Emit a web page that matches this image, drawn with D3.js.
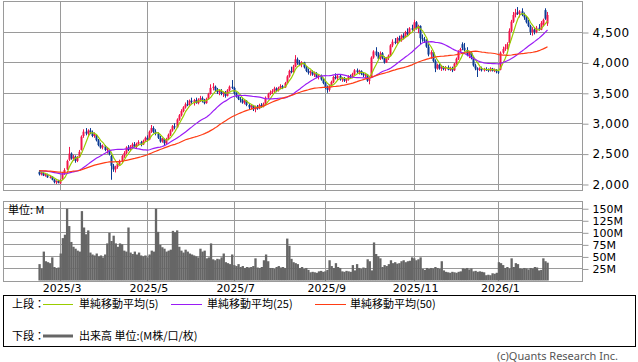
<!DOCTYPE html>
<html>
<head>
<meta charset="utf-8">
<script src="https://cdn.jsdelivr.net/npm/d3@7"></script>
<style>
    body { margin: 0; background: #fff; }
    svg { display: block; }
    .tick text { font-family: "DejaVu Sans", sans-serif; fill: #000; }
    .jp { font-family: "Noto Sans CJK JP", sans-serif; font-size: 11px; fill: #000; }
</style>
</head>
<body>
<svg id="chart" width="638" height="362"></svg>
<script>
// Daily bars, Feb 2025 - Feb 2026
const opens = [
    2200,2160,2180,2140,2160,2110,2120,2070,2030,2050,
    2010,2080,2170,2240,2400,2500,2420,2450,2380,2450,
    2560,2790,2860,2830,2880,2850,2790,2800,2720,2640,
    2600,2620,2560,2560,2460,2300,2240,2280,2330,2370,
    2460,2510,2600,2560,2620,2650,2610,2660,2690,2650,
    2710,2760,2730,2860,2920,2860,2830,2760,2700,2740,
    2670,2740,2810,2880,2950,2930,3060,3130,3200,3260,
    3310,3300,3370,3350,3380,3330,3390,3410,3360,3330,
    3400,3480,3580,3600,3540,3510,3530,3480,3500,3450,
    3540,3600,3580,3490,3440,3400,3380,3340,3370,3300,
    3260,3290,3230,3270,3240,3300,3280,3320,3420,3480,
    3510,3530,3570,3540,3580,3610,3590,3660,3770,3860,
    3840,3930,4050,3990,3960,4000,3920,3860,3830,3850,
    3800,3820,3760,3780,3720,3660,3580,3550,3620,3680,
    3760,3740,3780,3720,3740,3700,3720,3770,3760,3810,
    3870,3840,3860,3810,3790,3800,3700,3760,4080,4180,
    4120,4060,4150,4080,4000,4070,4110,4280,4340,4320,
    4400,4360,4440,4410,4500,4470,4560,4540,4660,4560,
    4600,4400,4380,4350,4260,4130,4170,4020,3900,3960,
    3900,3920,3890,3920,3880,3910,3870,3980,4060,4180,
    4300,4240,4200,4120,4160,4070,3950,3900,3880,3900,
    3870,3890,3880,3870,3900,3860,3880,3850,3880,4160,
    4220,4250,4320,4520,4670,4780,4820,4800,4840,4780,
    4740,4660,4600,4500,4540,4500,4570,4540,4620,4860,
    4640
];
const highs = [
    2230,2200,2190,2170,2170,2140,2130,2080,2060,2070,
    2080,2180,2260,2400,2610,2520,2480,2470,2460,2560,
    2800,2900,2920,2900,2920,2880,2850,2810,2740,2680,
    2650,2640,2600,2570,2480,2330,2300,2350,2400,2480,
    2540,2620,2640,2640,2680,2690,2680,2720,2710,2730,
    2780,2800,2880,2970,2950,2900,2850,2790,2760,2750,
    2760,2830,2900,2970,3000,3080,3150,3230,3280,3340,
    3380,3390,3420,3400,3420,3410,3450,3440,3400,3420,
    3500,3640,3660,3620,3580,3550,3560,3520,3530,3560,
    3620,3710,3600,3510,3470,3430,3420,3390,3380,3330,
    3310,3300,3290,3300,3320,3330,3340,3440,3500,3540,
    3560,3600,3590,3600,3640,3630,3680,3790,3880,3930,
    3960,4120,4080,4040,4020,4010,3940,3900,3870,3870,
    3850,3840,3800,3800,3740,3680,3620,3640,3700,3780,
    3820,3800,3800,3760,3760,3740,3790,3800,3830,3890,
    3900,3880,3870,3840,3820,3810,3730,4100,4200,4250,
    4170,4180,4170,4100,4090,4130,4300,4380,4400,4420,
    4440,4460,4480,4520,4560,4580,4620,4700,4680,4620,
    4610,4460,4420,4380,4300,4200,4190,4050,3980,3980,
    3950,3940,3940,3950,3930,3930,3990,4080,4200,4240,
    4330,4320,4250,4180,4170,4090,3980,3920,3920,3930,
    3910,3920,3900,3920,3910,3900,3890,3870,4180,4260,
    4300,4330,4560,4700,4830,4880,4910,4860,4890,4820,
    4760,4700,4620,4580,4580,4600,4630,4680,4720,4890,
    4830
];
const lows = [
    2140,2140,2130,2120,2100,2090,2060,2010,2000,2010,
    2000,2070,2150,2230,2380,2400,2380,2350,2360,2430,
    2550,2760,2800,2780,2820,2770,2760,2700,2620,2580,
    2570,2540,2500,2470,2070,2200,2190,2250,2300,2350,
    2430,2490,2540,2540,2590,2600,2590,2630,2620,2640,
    2690,2700,2720,2840,2840,2800,2740,2680,2680,2640,
    2650,2720,2790,2860,2900,2920,3040,3110,3180,3240,
    3280,3290,3320,3290,3320,3310,3350,3340,3310,3320,
    3390,3470,3540,3520,3480,3460,3460,3430,3420,3440,
    3520,3560,3470,3420,3380,3340,3320,3310,3280,3230,
    3230,3200,3180,3220,3230,3250,3260,3300,3400,3460,
    3480,3500,3510,3520,3560,3560,3580,3650,3750,3820,
    3830,3920,3960,3940,3920,3900,3840,3800,3780,3780,
    3760,3740,3720,3700,3640,3560,3500,3520,3600,3660,
    3720,3710,3700,3680,3680,3660,3700,3730,3740,3790,
    3820,3800,3790,3760,3740,3680,3640,3750,4060,4100,
    4040,4040,4050,3980,3990,4040,4100,4250,4300,4300,
    4340,4340,4380,4400,4440,4450,4520,4520,4540,4480,
    4300,4340,4320,4240,4100,4060,4000,3840,3880,3880,
    3860,3870,3860,3870,3860,3840,3860,3960,4040,4160,
    4200,4180,4100,4070,4050,3930,3870,3760,3860,3850,
    3850,3860,3840,3850,3850,3840,3820,3810,3870,4140,
    4190,4210,4310,4500,4650,4740,4780,4740,4760,4700,
    4640,4580,4450,4440,4460,4480,4520,4530,4600,4700,
    4600
];
const closes = [
    2160,2180,2140,2160,2110,2120,2070,2030,2050,2020,
    2070,2170,2230,2380,2500,2420,2450,2380,2440,2530,
    2780,2860,2830,2880,2850,2790,2820,2720,2640,2600,
    2630,2560,2580,2490,2300,2240,2280,2330,2370,2460,
    2510,2600,2560,2620,2650,2610,2660,2690,2650,2710,
    2760,2730,2860,2920,2860,2830,2760,2700,2740,2670,
    2740,2810,2880,2950,2930,3060,3130,3200,3260,3310,
    3300,3370,3350,3380,3330,3390,3410,3360,3330,3400,
    3480,3580,3600,3540,3510,3530,3480,3500,3450,3540,
    3600,3580,3490,3440,3400,3380,3340,3370,3300,3260,
    3290,3230,3270,3240,3300,3280,3320,3420,3480,3510,
    3530,3570,3540,3580,3610,3590,3660,3770,3860,3840,
    3930,4050,3990,3960,4000,3920,3860,3830,3850,3800,
    3820,3760,3780,3720,3660,3580,3550,3620,3680,3760,
    3740,3780,3720,3740,3700,3720,3770,3760,3810,3870,
    3840,3860,3810,3790,3800,3700,3720,4080,4180,4120,
    4060,4150,4080,4000,4070,4110,4280,4340,4320,4400,
    4360,4440,4410,4500,4470,4560,4540,4660,4560,4600,
    4400,4380,4350,4260,4130,4170,4020,3900,3960,3900,
    3920,3890,3920,3880,3910,3870,3980,4060,4180,4220,
    4240,4200,4120,4160,4070,3950,3900,3880,3900,3870,
    3890,3880,3870,3900,3860,3880,3850,3840,4160,4220,
    4250,4300,4520,4670,4780,4820,4800,4840,4780,4740,
    4660,4600,4500,4540,4500,4570,4540,4650,4700,4720,
    4780
];
// Volume in millions of shares
const volumes = [
    34,25,60,40,38,36,48,28,26,27,
    56,88,95,149,113,80,70,66,62,60,
    144,110,96,104,58,54,52,56,50,52,
    48,54,77,99,82,93,77,70,77,75,
    62,60,110,58,55,60,54,58,52,50,
    52,48,54,62,60,149,101,74,69,66,
    60,62,64,103,100,104,70,62,58,64,
    60,56,54,52,50,48,66,60,62,46,
    48,77,44,42,45,44,48,56,38,36,
    34,54,32,30,34,28,30,26,28,27,
    28,30,46,27,26,28,42,54,40,26,
    26,24,28,30,27,28,26,87,72,45,
    38,36,34,26,28,24,26,22,17,18,
    17,16,19,20,18,19,22,42,30,26,
    36,28,26,19,18,20,19,18,32,21,
    34,26,24,27,26,44,40,21,79,55,
    50,46,28,32,30,34,42,36,38,35,
    36,40,42,38,40,41,48,46,42,44,
    48,24,22,26,24,26,25,28,26,24,
    40,21,18,17,16,18,17,16,18,19,
    25,24,26,23,25,19,20,18,19,18,
    17,11,12,11,15,14,16,38,36,32,
    26,28,25,46,28,36,34,25,24,26,
    25,23,26,25,28,27,21,22,46,40,
    37
];
// average price level before the first bar (where the MA lines start)
const priorLevel = 2220;

// Month grid: bar index and label
const monthIdx = [10, 51, 92, 135, 177, 217];
const monthLabels = ["2025/3", "2025/5", "2025/7", "2025/9", "2025/11", "2026/1"];

const priceTicks = [2000, 2500, 3000, 3500, 4000, 4500];
const volumeTicks = [25, 50, 75, 100, 125, 150];

const maPeriods = [5, 25, 50];
const maColors = ["#99cc00", "#9a1cf5", "#ff3c14"];
const maNames = ["単純移動平均(5)", "単純移動平均(25)", "単純移動平均(50)"];

const upColor = "#f2164c";
const downColor = "#0c3b94";
const gridColor = "#9a9a9a";

// Layout
var left = 3, right = 582;
var pTop = 1, pBottom = 190;
var vTop = 201, vBottom = 281;

var svg = d3.select("#chart");

// Scales
var x = d3.scaleLinear().domain([-17, 257]).range([left, right + 1]);
var y = d3.scaleLinear().domain([1901.3, 5010]).range([pBottom, pTop]);
var yv = d3.scaleLinear().domain([0, 165]).range([vBottom - 0.5, vTop]);
var step = x(1) - x(0);

// Simple moving average (missing days before the window use priorLevel)
function movingAverage(period) {
    return closes.map(function (c, i) {
        var sum = 0;
        for (var k = i - period + 1; k <= i; k++) {
            sum += k < 0 ? priorLevel : closes[k];
        }
        return sum / period;
    });
}

// Draw grid + frame of one panel
function drawPanel(top, bottom, scale, ticks, fmt, fontSize, spacing) {
    var g = svg.append("g");

    g.selectAll(".hgrid")
        .data(ticks)
        .enter().append("line")
        .attr("x1", left).attr("x2", right)
        .attr("y1", function (d) { return Math.round(scale(d)) + 0.5; })
        .attr("y2", function (d) { return Math.round(scale(d)) + 0.5; })
        .attr("stroke", gridColor);

    g.selectAll(".vgrid")
        .data(monthIdx)
        .enter().append("line")
        .attr("x1", function (d) { return Math.round(x(d)) + 0.5; })
        .attr("x2", function (d) { return Math.round(x(d)) + 0.5; })
        .attr("y1", top).attr("y2", bottom)
        .attr("stroke", gridColor);

    g.append("rect")
        .attr("x", left + 0.5).attr("y", top + 0.5)
        .attr("width", right - left).attr("height", bottom - top)
        .attr("fill", "none")
        .attr("stroke", gridColor);

    // Right axis
    var axis = g.append("g")
        .attr("transform", "translate(" + (right + 0.5) + ",0.5)")
        .call(d3.axisRight(scale).tickValues(ticks).tickSize(6).tickPadding(4).tickFormat(fmt));
    axis.select(".domain").remove();
    axis.selectAll(".tick line").attr("stroke", gridColor);
    axis.selectAll(".tick text")
        .style("font-size", fontSize + "px")
        .style("letter-spacing", spacing + "px");
}

drawPanel(pTop, pBottom, y, priceTicks, d3.format(","), 12, 0.6);
drawPanel(vTop, vBottom, yv, volumeTicks, function (d) { return d + "M"; }, 11, 0);

// Candles
var candles = svg.append("g");
closes.forEach(function (c, i) {
    var o = opens[i];
    var color = c >= o ? upColor : downColor;
    var cx = Math.round(x(i));
    candles.append("line")
        .attr("x1", cx + 0.5).attr("x2", cx + 0.5)
        .attr("y1", y(highs[i])).attr("y2", y(lows[i]))
        .attr("stroke", color)
        .attr("stroke-width", 1);
    var top = y(Math.max(o, c));
    var h = Math.max(1, y(Math.min(o, c)) - top);
    candles.append("rect")
        .attr("x", cx - 0.5).attr("y", top)
        .attr("width", 2).attr("height", h)
        .attr("fill", color);
});

// Moving averages
maPeriods.forEach(function (p, k) {
    var ma = movingAverage(p);
    var line = d3.line()
        .x(function (d, i) { return x(i) + 0.5; })
        .y(function (d) { return y(d); });
    svg.append("path")
        .datum(ma)
        .attr("d", line)
        .attr("fill", "none")
        .attr("stroke", maColors[k])
        .attr("stroke-width", 1.2);
});

// Volume bars
svg.append("g")
    .selectAll("rect")
    .data(volumes)
    .enter().append("rect")
    .attr("x", function (d, i) { return x(i) - step / 2 + 0.5; })
    .attr("y", function (d) { return yv(d); })
    .attr("width", step + 0.2)
    .attr("height", function (d) { return yv(0) - yv(d); })
    .attr("fill", "#666666");

svg.append("text")
    .attr("class", "jp")
    .attr("x", 8).attr("y", 214)
    .text("単位: M");

// Month labels
svg.append("g")
    .selectAll("text")
    .data(monthIdx)
    .enter().append("text")
    .attr("x", function (d) { return x(d) + 2; })
    .attr("y", 292)
    .attr("text-anchor", "middle")
    .style("font-family", "DejaVu Sans, sans-serif")
    .style("font-size", "11px")
    .text(function (d, i) { return monthLabels[i]; });

// Legend box
svg.append("rect")
    .attr("x", 3.5).attr("y", 295.5)
    .attr("width", 632).attr("height", 51)
    .attr("fill", "none")
    .attr("stroke", "#000");

svg.append("text").attr("class", "jp").attr("x", 12).attr("y", 308).text("上段：");
var legendLines = [[43, 73], [171, 202], [315, 346]];
var legendText = [79, 207, 350];
maNames.forEach(function (name, k) {
    svg.append("line")
        .attr("x1", legendLines[k][0]).attr("x2", legendLines[k][1])
        .attr("y1", 304.5).attr("y2", 304.5)
        .attr("stroke", maColors[k]);
    svg.append("text").attr("class", "jp")
        .attr("x", legendText[k]).attr("y", 308)
        .text(name);
});

svg.append("text").attr("class", "jp").attr("x", 12).attr("y", 340).text("下段：");
svg.append("line")
    .attr("x1", 43).attr("x2", 73)
    .attr("y1", 336).attr("y2", 336)
    .attr("stroke", "#666666")
    .attr("stroke-width", 3);
svg.append("text").attr("class", "jp").attr("x", 79).attr("y", 340).text("出来高 単位:(M株/口/枚)");

svg.append("text")
    .attr("x", 618).attr("y", 360)
    .attr("text-anchor", "end")
    .style("font-family", "Noto Sans, sans-serif")
    .style("font-size", "11px")
    .style("fill", "#555")
    .text("(c)Quants Research Inc.");
</script>
</body>
</html>
